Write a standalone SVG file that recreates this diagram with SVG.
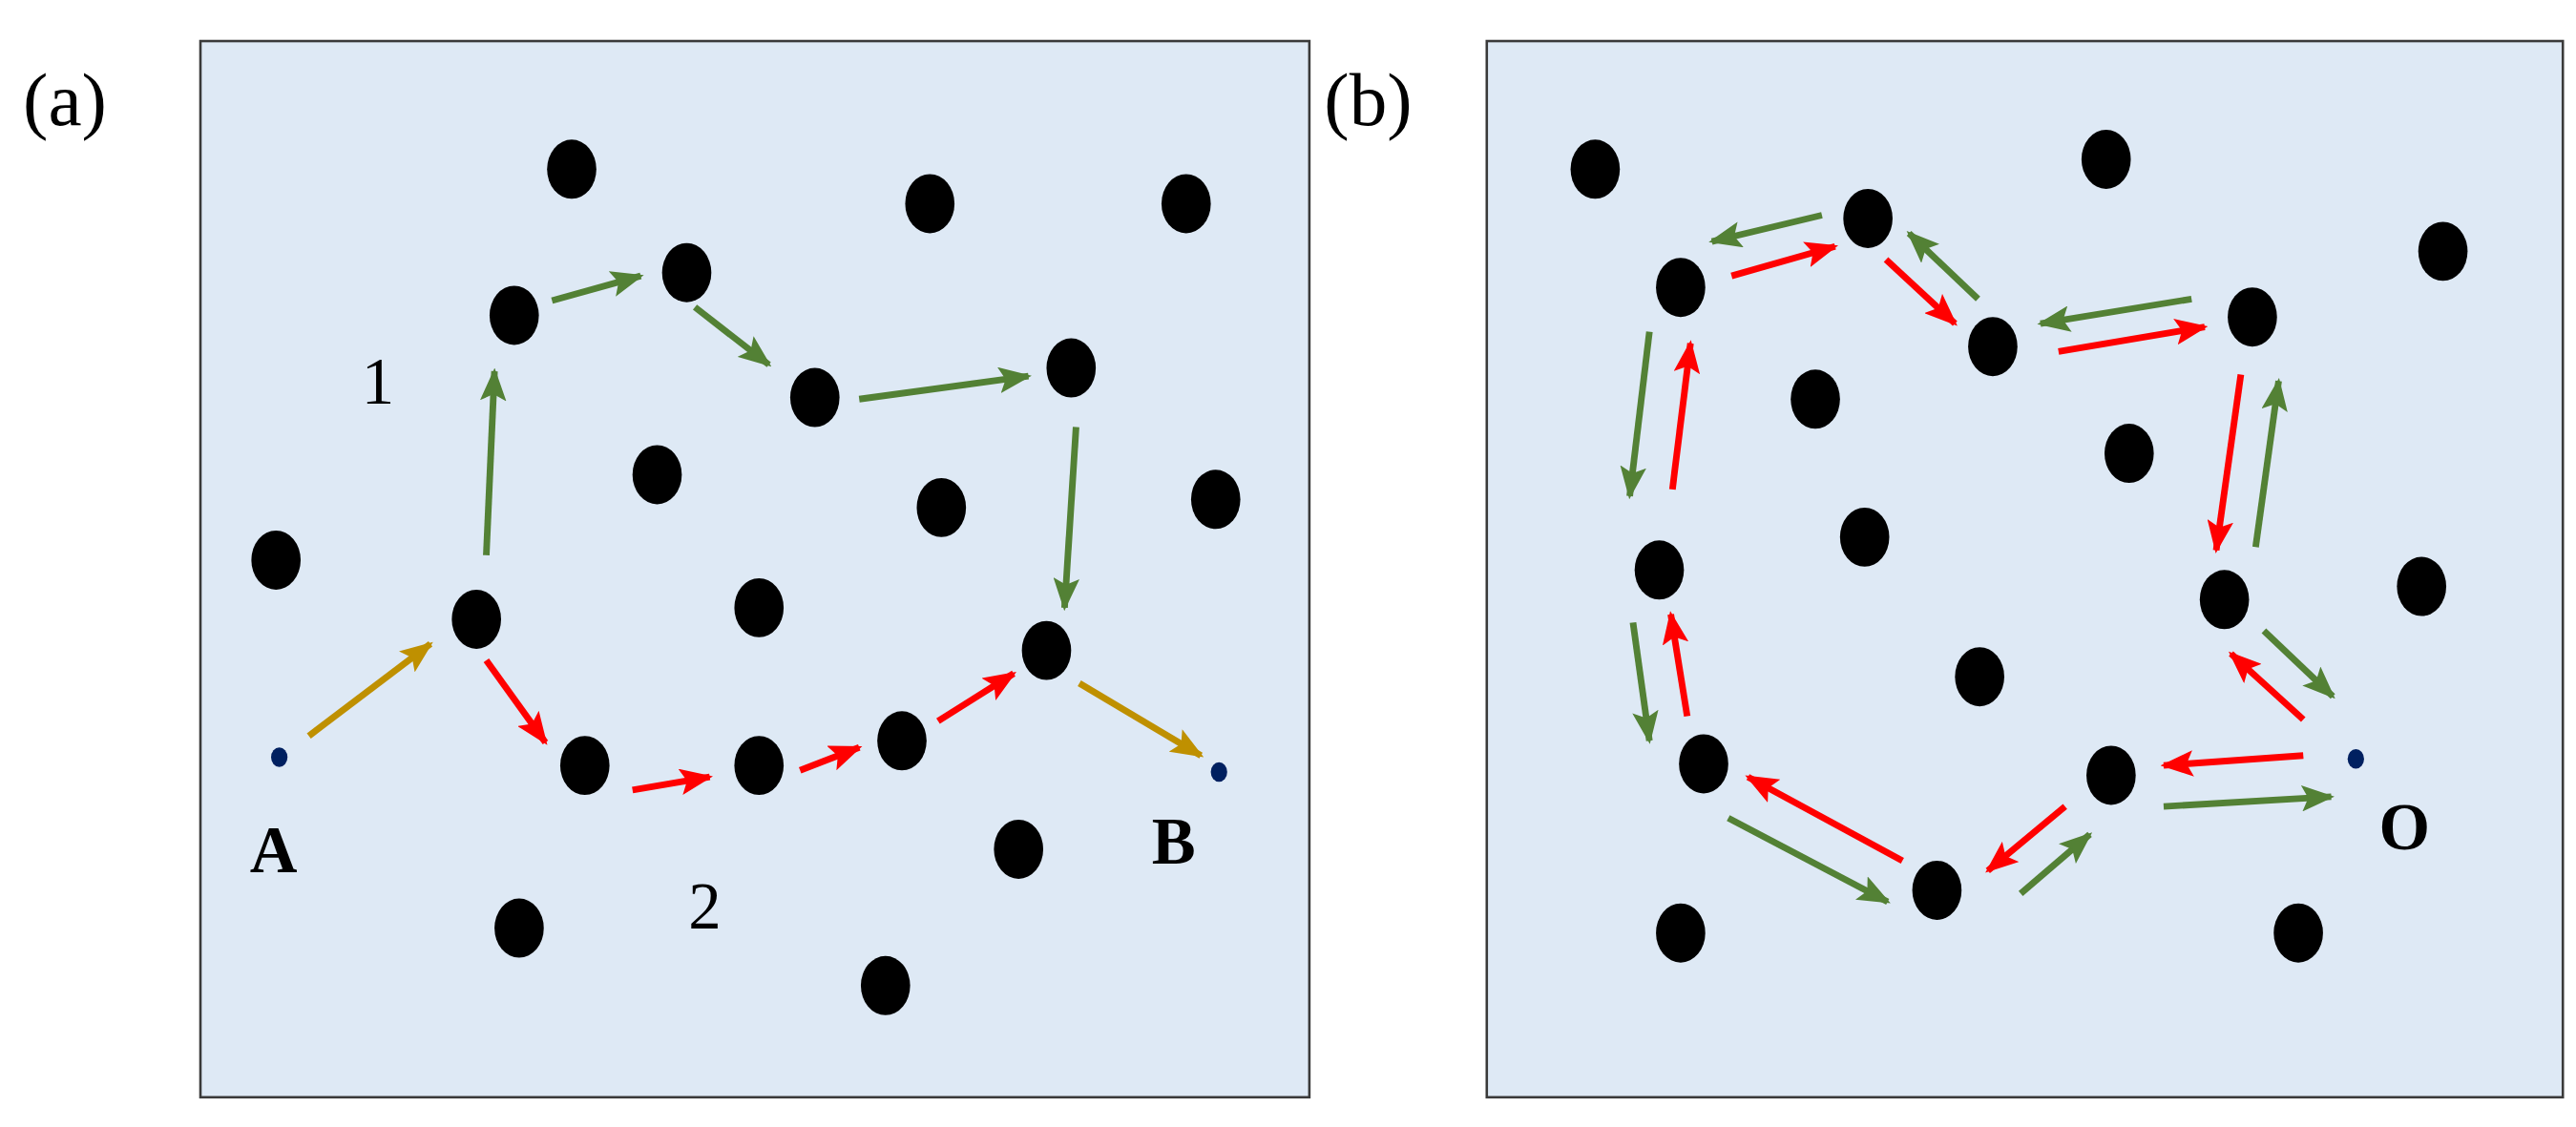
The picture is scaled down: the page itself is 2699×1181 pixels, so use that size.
<svg xmlns="http://www.w3.org/2000/svg" width="2699" height="1181" viewBox="0 0 2699 1181">
<style>
.p{fill:#dee9f5;stroke:#3a3a3a;stroke-width:1.5}
.n{fill:#000}
.s{fill:#002060}
.g{stroke:#538135;stroke-width:4;fill:none;marker-end:url(#mg)}
.r{stroke:#ff0000;stroke-width:4;fill:none;marker-end:url(#mr)}
.y{stroke:#bf9000;stroke-width:4;fill:none;marker-end:url(#my)}
text{font-family:"Liberation Serif",serif;fill:#000}
.lab{font-size:46px}
.num{font-size:40px}
.b{font-size:40px;font-weight:bold}
</style>
<defs>
<marker id="mg" viewBox="0 0 10 8" refX="9" refY="4" markerWidth="5" markerHeight="4" orient="auto"><path d="M0,0L10,4L0,8L2,4Z" fill="#538135"/></marker>
<marker id="mr" viewBox="0 0 10 8" refX="9" refY="4" markerWidth="5" markerHeight="4" orient="auto"><path d="M0,0L10,4L0,8L2,4Z" fill="#ff0000"/></marker>
<marker id="my" viewBox="0 0 10 8" refX="9" refY="4" markerWidth="5" markerHeight="4" orient="auto"><path d="M0,0L10,4L0,8L2,4Z" fill="#bf9000"/></marker>
</defs>
<rect width="2699" height="1181" fill="#fff"/>
<g transform="scale(1.7213)">
<g id="panel-a">
<rect class="p" x="122" y="25" width="675" height="643"/>
<text class="lab" x="14" y="76">(a)</text>
</g>
<g id="nodes-a">
<ellipse class="n" cx="348" cy="103" rx="15" ry="18"/>
<ellipse class="n" cx="566" cy="124" rx="15" ry="18"/>
<ellipse class="n" cx="722" cy="124" rx="15" ry="18"/>
<ellipse class="n" cx="313" cy="192" rx="15" ry="18"/>
<ellipse class="n" cx="418" cy="166" rx="15" ry="18"/>
<ellipse class="n" cx="496" cy="242" rx="15" ry="18"/>
<ellipse class="n" cx="652" cy="224" rx="15" ry="18"/>
<ellipse class="n" cx="400" cy="289" rx="15" ry="18"/>
<ellipse class="n" cx="573" cy="309" rx="15" ry="18"/>
<ellipse class="n" cx="740" cy="304" rx="15" ry="18"/>
<ellipse class="n" cx="168" cy="341" rx="15" ry="18"/>
<ellipse class="n" cx="290" cy="377" rx="15" ry="18"/>
<ellipse class="n" cx="462" cy="370" rx="15" ry="18"/>
<ellipse class="n" cx="637" cy="396" rx="15" ry="18"/>
<ellipse class="n" cx="356" cy="466" rx="15" ry="18"/>
<ellipse class="n" cx="462" cy="466" rx="15" ry="18"/>
<ellipse class="n" cx="549" cy="451" rx="15" ry="18"/>
<ellipse class="n" cx="620" cy="517" rx="15" ry="18"/>
<ellipse class="n" cx="316" cy="565" rx="15" ry="18"/>
<ellipse class="n" cx="539" cy="600" rx="15" ry="18"/>
<ellipse class="s" cx="170" cy="461" rx="5" ry="6"/>
<ellipse class="s" cx="742" cy="470" rx="5" ry="6"/>
<text class="num" x="220" y="246">1</text>
<text class="num" x="419" y="565">2</text>
<text class="b" x="152" y="531">A</text>
<text class="b" x="701" y="526">B</text>
</g>
<g id="connectors-a">
<line class="g" x1="296" y1="338" x2="301" y2="226"/>
<line class="g" x1="336" y1="183" x2="390" y2="168"/>
<line class="g" x1="423" y1="187" x2="468" y2="222"/>
<line class="g" x1="523" y1="243" x2="626" y2="229"/>
<line class="g" x1="655" y1="260" x2="648" y2="370"/>
<line class="y" x1="188" y1="448" x2="262" y2="392"/>
<line class="y" x1="657" y1="416" x2="731" y2="460"/>
<line class="r" x1="296" y1="402" x2="332" y2="452"/>
<line class="r" x1="385" y1="481" x2="432" y2="473"/>
<line class="r" x1="487" y1="469" x2="523" y2="455"/>
<line class="r" x1="571" y1="439" x2="617" y2="410"/>
</g>
<g id="panel-b">
<rect class="p" x="905" y="25" width="655" height="643"/>
<text class="lab" x="806" y="76">(b)</text>
</g>
<g id="nodes-b">
<ellipse class="n" cx="971" cy="103" rx="15" ry="18"/>
<ellipse class="n" cx="1282" cy="97" rx="15" ry="18"/>
<ellipse class="n" cx="1487" cy="153" rx="15" ry="18"/>
<ellipse class="n" cx="1137" cy="133" rx="15" ry="18"/>
<ellipse class="n" cx="1023" cy="175" rx="15" ry="18"/>
<ellipse class="n" cx="1213" cy="211" rx="15" ry="18"/>
<ellipse class="n" cx="1371" cy="193" rx="15" ry="18"/>
<ellipse class="n" cx="1105" cy="243" rx="15" ry="18"/>
<ellipse class="n" cx="1296" cy="276" rx="15" ry="18"/>
<ellipse class="n" cx="1135" cy="327" rx="15" ry="18"/>
<ellipse class="n" cx="1010" cy="347" rx="15" ry="18"/>
<ellipse class="n" cx="1354" cy="365" rx="15" ry="18"/>
<ellipse class="n" cx="1474" cy="357" rx="15" ry="18"/>
<ellipse class="n" cx="1205" cy="412" rx="15" ry="18"/>
<ellipse class="n" cx="1037" cy="465" rx="15" ry="18"/>
<ellipse class="n" cx="1285" cy="472" rx="15" ry="18"/>
<ellipse class="n" cx="1179" cy="542" rx="15" ry="18"/>
<ellipse class="n" cx="1023" cy="568" rx="15" ry="18"/>
<ellipse class="n" cx="1399" cy="568" rx="15" ry="18"/>
<ellipse class="s" cx="1434" cy="462" rx="5" ry="6"/>
<text class="b" x="1448" y="517">O</text>
</g>
<g id="connectors-b">
<line class="g" x1="1109" y1="131" x2="1042" y2="147"/>
<line class="r" x1="1054" y1="168" x2="1117" y2="150"/>
<line class="r" x1="1148" y1="158" x2="1190" y2="197"/>
<line class="g" x1="1204" y1="182" x2="1162" y2="142"/>
<line class="g" x1="1334" y1="182" x2="1242" y2="197"/>
<line class="r" x1="1253" y1="214" x2="1342" y2="199"/>
<line class="r" x1="1364" y1="228" x2="1349" y2="335"/>
<line class="g" x1="1373" y1="333" x2="1387" y2="232"/>
<line class="g" x1="1378" y1="384" x2="1420" y2="424"/>
<line class="r" x1="1402" y1="438" x2="1358" y2="398"/>
<line class="r" x1="1402" y1="460" x2="1317" y2="466"/>
<line class="g" x1="1317" y1="491" x2="1419" y2="485"/>
<line class="r" x1="1257" y1="491" x2="1210" y2="530"/>
<line class="g" x1="1230" y1="544" x2="1272" y2="508"/>
<line class="r" x1="1158" y1="524" x2="1064" y2="473"/>
<line class="g" x1="1052" y1="498" x2="1149" y2="549"/>
<line class="r" x1="1027" y1="436" x2="1017" y2="374"/>
<line class="g" x1="994" y1="379" x2="1004" y2="451"/>
<line class="r" x1="1018" y1="298" x2="1029" y2="209"/>
<line class="g" x1="1004" y1="202" x2="992" y2="302"/>
</g>
</g>
</svg>
